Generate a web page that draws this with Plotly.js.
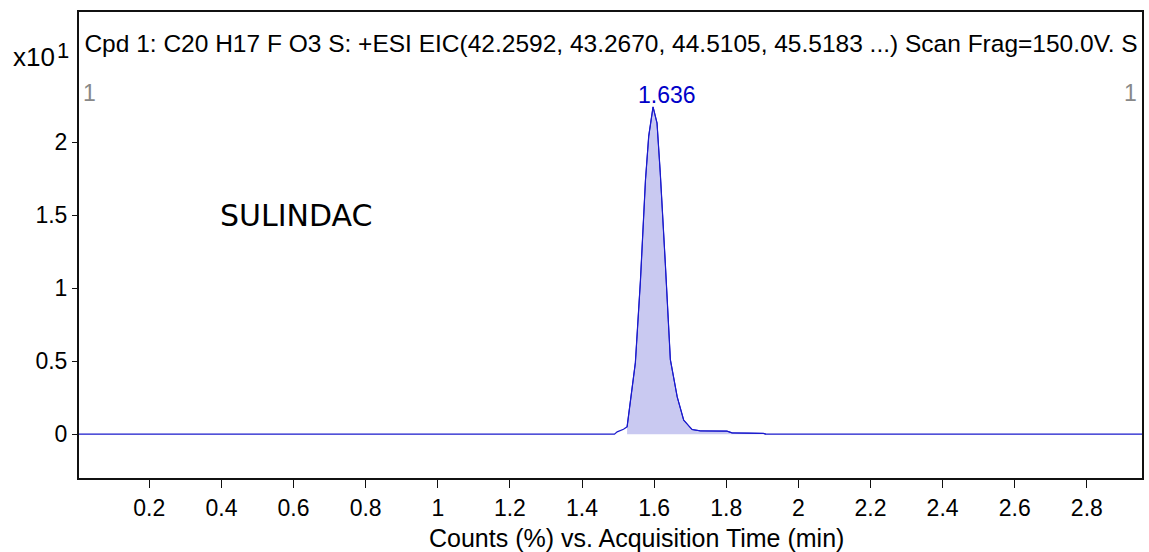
<!DOCTYPE html>
<html>
<head>
<meta charset="utf-8">
<script src="https://cdn.plot.ly/plotly-3.0.1.min.js"></script>
<style>html,body{margin:0;padding:0;background:#fff;}#chart{width:1149px;height:552px;}</style>
</head>
<body>
<div id="chart"></div>
<script>
// Acquisition time (min) and counts (x10^1)
const time = [0.0, 1.490, 1.4975, 1.515, 1.525, 1.534, 1.548, 1.562, 1.576, 1.585, 1.597, 1.608, 1.617, 1.631, 1.645, 1.664, 1.682, 1.705, 1.728, 1.802, 1.816, 1.903, 1.910, 2.953];
const counts = [0.0, 0.0, 0.016, 0.034, 0.05, 0.21, 0.49, 1.05, 1.74, 2.04, 2.24, 2.13, 1.79, 1.17, 0.51, 0.255, 0.096, 0.032, 0.023, 0.021, 0.009, 0.005, 0.0, 0.0];
const fillStart = 1.525, fillEnd = 1.910;
const xTickVals = [0.2, 0.4, 0.6, 0.8, 1.0, 1.2, 1.4, 1.6, 1.8, 2.0, 2.2, 2.4, 2.6, 2.8];
const xTickText = ["0.2", "0.4", "0.6", "0.8", "1", "1.2", "1.4", "1.6", "1.8", "2", "2.2", "2.4", "2.6", "2.8"];
const yTickVals = [0, 0.5, 1, 1.5, 2];
const yTickText = ["0", "0.5", "1", "1.5", "2"];
const peakRT = 1.636;
const titleText = "Cpd 1: C20 H17 F O3 S: +ESI EIC(42.2592, 43.2670, 44.5105, 45.5183 ...) Scan Frag=150.0V. S";
const compound = "SULINDAC";
const xTitle = "Counts (%) vs. Acquisition Time (min)";

const fx = [], fy = [];
time.forEach((t, i) => { if (t >= fillStart && t <= fillEnd) { fx.push(t); fy.push(counts[i]); } });

const FONT = "Liberation Sans, Arial, sans-serif";
const traces = [
  {x: fx, y: fy, type: 'scatter', mode: 'lines', fill: 'tozeroy', fillcolor: '#c9c9f1',
   line: {color: '#1a1acc', width: 1}, hoverinfo: 'skip', showlegend: false},
  {x: time, y: counts, type: 'scatter', mode: 'lines',
   line: {color: '#1a1acc', width: 1.2}, hoverinfo: 'skip', showlegend: false},
  {x: [0.02], y: [2.66], type: 'scatter', mode: 'text', text: [titleText],
   textposition: 'middle right', cliponaxis: true,
   textfont: {family: FONT, size: 24.5, color: '#000'}, hoverinfo: 'skip', showlegend: false}
];

const layout = {
  width: 1149, height: 552,
  margin: {l: 79, r: 7, t: 12, b: 74},
  paper_bgcolor: '#fff', plot_bgcolor: '#fff',
  showlegend: false,
  xaxis: {range: [0.005, 2.953], tickvals: xTickVals, ticktext: xTickText,
    showgrid: false, zeroline: false, showline: true, mirror: true, linecolor: '#111', linewidth: 2,
    ticks: 'outside', ticklen: 8, tickwidth: 1, tickcolor: '#111',
    tickfont: {family: FONT, size: 23, color: '#000'}},
  yaxis: {range: [-0.30, 2.89], tickvals: yTickVals, ticktext: yTickText,
    showgrid: false, zeroline: false, showline: true, mirror: true, linecolor: '#111', linewidth: 2,
    ticks: 'outside', ticklen: 5, tickwidth: 1, tickcolor: '#111',
    tickfont: {family: FONT, size: 23, color: '#000'}},
  annotations: [
    {x: peakRT, y: 2.32, xref: 'x', yref: 'y', text: '1.636', showarrow: false,
     xanchor: 'center', yanchor: 'middle', font: {family: FONT, size: 23, color: '#0000c8'}},
    {x: 0.4, y: 1.5, xref: 'x', yref: 'y', text: compound, showarrow: false, xshift: -3,
     xanchor: 'left', yanchor: 'middle', font: {family: 'DejaVu Sans, sans-serif', size: 30, color: '#000'}},
    {x: 0.033, y: 2.335, xref: 'x', yref: 'y', text: '1', showarrow: false,
     xanchor: 'center', yanchor: 'middle', font: {family: FONT, size: 23, color: '#888'}},
    {x: 2.922, y: 2.335, xref: 'x', yref: 'y', text: '1', showarrow: false,
     xanchor: 'center', yanchor: 'middle', font: {family: FONT, size: 23, color: '#888'}},
    {x: -0.0637, y: 0.9034, xref: 'paper', yref: 'paper', text: 'x10', showarrow: false,
     xanchor: 'left', yanchor: 'middle', font: {family: FONT, size: 26, color: '#000'}},
    {x: -0.0146, y: 0.918, xref: 'paper', yref: 'paper', text: '1', showarrow: false,
     xanchor: 'center', yanchor: 'middle', font: {family: FONT, size: 22, color: '#000'}},
    {x: 1.551, y: -0.129, xref: 'x', yref: 'paper', text: xTitle, showarrow: false,
     xanchor: 'center', yanchor: 'middle', font: {family: FONT, size: 25, color: '#000'}}
  ]
};

Plotly.newPlot('chart', traces, layout, {staticPlot: true, displayModeBar: false});
</script>
</body>
</html>
